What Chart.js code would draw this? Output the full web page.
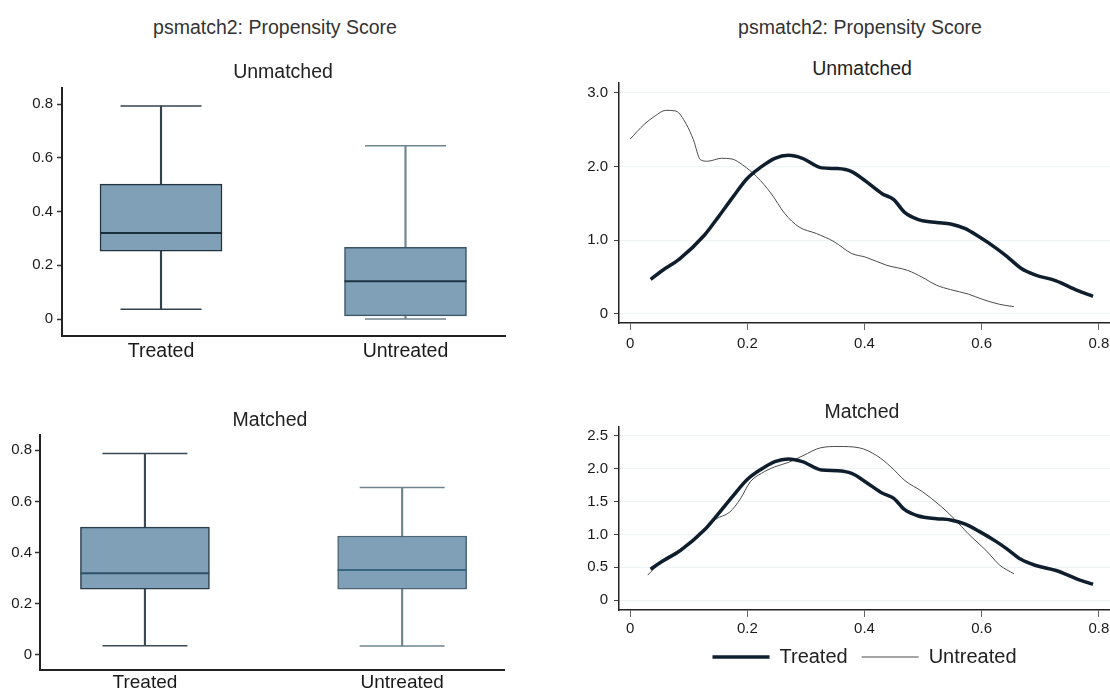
<!DOCTYPE html>
<html>
<head>
<meta charset="utf-8">
<title>psmatch2: Propensity Score</title>
<script src="https://cdn.jsdelivr.net/npm/chart.js@4.4.1/dist/chart.umd.min.js"></script>
<style>
body { margin: 0; width: 1110px; height: 693px; overflow: hidden; background: #fff;
       font-family: "Liberation Sans", Arial, Helvetica, sans-serif; }
canvas { position: absolute; }
.t { position: absolute; transform: translate(-50%, -50%); white-space: nowrap; color: #222; font-size: 19.5px; }
.main { color: #333; }
</style>
</head>
<body>
<canvas id="boxUnmatched" width="520" height="290" style="left:0;top:80px"></canvas>
<canvas id="boxMatched" width="520" height="293" style="left:0;top:400px"></canvas>
<canvas id="densUnmatched" width="550" height="290" style="left:560px;top:80px"></canvas>
<canvas id="densMatched" width="550" height="293" style="left:560px;top:400px"></canvas>

<div class="t main" style="left:275px;top:27px">psmatch2: Propensity Score</div>
<div class="t main" style="left:860px;top:27px">psmatch2: Propensity Score</div>
<div class="t" style="left:283px;top:71px">Unmatched</div>
<div class="t" style="left:862px;top:68px">Unmatched</div>
<div class="t" style="left:270px;top:419px">Matched</div>
<div class="t" style="left:862px;top:411px">Matched</div>

<script>
// groups
const groups = ['Treated', 'Untreated'];

// box stats per group: [lower whisker, q1, median, q3, upper whisker]
const boxUnmatched = [[0.037, 0.253, 0.320, 0.502, 0.793],
                      [0.000, 0.012, 0.141, 0.267, 0.645]];
const boxMatched   = [[0.036, 0.257, 0.319, 0.500, 0.788],
                      [0.035, 0.257, 0.332, 0.465, 0.655]];
const boxTicks = [0, 0.2, 0.4, 0.6, 0.8];
const boxTickLabels = ['0', '0.2', '0.4', '0.6', '0.8'];

// kernel density of the propensity score, treated (same group in both panels)
const treatedX = [0.035, 0.055, 0.085, 0.127, 0.151, 0.175, 0.199, 0.223, 0.247, 0.270,
                  0.294, 0.327, 0.354, 0.378, 0.402, 0.430, 0.450, 0.468, 0.492, 0.523,
                  0.547, 0.571, 0.595, 0.625, 0.643, 0.667, 0.691, 0.727, 0.763, 0.790];
const treatedY = [0.47, 0.59, 0.75, 1.07, 1.32, 1.58, 1.83, 1.99, 2.11, 2.15,
                  2.11, 1.98, 1.97, 1.93, 1.80, 1.63, 1.55, 1.38, 1.28, 1.24,
                  1.22, 1.16, 1.05, 0.89, 0.78, 0.62, 0.53, 0.45, 0.32, 0.24];

// untreated, before matching
const untreatedUX = [0.000, 0.024, 0.042, 0.061, 0.078, 0.096, 0.108, 0.120, 0.132, 0.156,
                     0.174, 0.192, 0.216, 0.240, 0.264, 0.288, 0.318, 0.348, 0.378, 0.402,
                     0.438, 0.474, 0.498, 0.523, 0.547, 0.577, 0.601, 0.631, 0.655];
const untreatedUY = [2.37, 2.57, 2.68, 2.76, 2.75, 2.57, 2.36, 2.09, 2.07, 2.11,
                     2.10, 2.02, 1.86, 1.64, 1.36, 1.18, 1.09, 0.98, 0.82, 0.77,
                     0.66, 0.59, 0.50, 0.39, 0.33, 0.27, 0.20, 0.13, 0.10];

// untreated, after matching
const untreatedMX = [0.030, 0.056, 0.086, 0.128, 0.146, 0.170, 0.188, 0.205, 0.224, 0.247,
                     0.271, 0.295, 0.325, 0.355, 0.391, 0.421, 0.445, 0.469, 0.499, 0.529,
                     0.553, 0.577, 0.607, 0.631, 0.655];
const untreatedMY = [0.38, 0.61, 0.78, 1.06, 1.23, 1.34, 1.54, 1.80, 1.93, 2.03,
                     2.10, 2.20, 2.32, 2.34, 2.32, 2.20, 2.03, 1.82, 1.65, 1.44,
                     1.24, 1.01, 0.76, 0.53, 0.40];

const xTicks = [0, 0.2, 0.4, 0.6, 0.8];
const xTickLabels = ['0', '0.2', '0.4', '0.6', '0.8'];
const yTicksU = [0, 1, 2, 3];
const yTickLabelsU = ['0', '1.0', '2.0', '3.0'];
const yTicksM = [0, 0.5, 1, 1.5, 2, 2.5];
const yTickLabelsM = ['0', '0.5', '1.0', '1.5', '2.0', '2.5'];

Chart.defaults.font.family = '"Liberation Sans", Arial, Helvetica, sans-serif';
Chart.defaults.color = '#1a1a1a';
Chart.defaults.animation = false;
Chart.defaults.plugins.tooltip.enabled = false;
Chart.defaults.plugins.legend.display = false;

function boxChart(id, stats, o) {
  const at = k => stats.map((s, i) => ({x: i, y: s[k]}));
  new Chart(document.getElementById(id), {
    type: 'bar',
    data: {
      datasets: [
        // median
        {type: 'line', data: at(2), showLine: false, pointStyle: 'line',
         pointRadius: o.box / 2, pointHoverRadius: o.box / 2, pointBorderWidth: 2,
         pointBorderColor: o.median, order: 0},
        // whisker caps
        {type: 'line', data: at(0).concat(at(4)), showLine: false, pointStyle: 'line',
         pointRadius: o.cap / 2, pointHoverRadius: o.cap / 2, pointBorderWidth: 1.5,
         pointBorderColor: o.whisker.concat(o.whisker), order: 1},
        // box q1..q3
        {data: stats.map((s, i) => ({x: i, y: [s[1], s[3]]})), backgroundColor: '#7fa0b6',
         borderColor: o.edge, borderWidth: 1.5, borderSkipped: false,
         barThickness: o.box, grouped: false, order: 2},
        // whisker
        {data: stats.map((s, i) => ({x: i, y: [s[0], s[4]]})), backgroundColor: o.whisker,
         barThickness: 1.5, grouped: false, order: 3}
      ]
    },
    options: {
      responsive: false,
      layout: {autoPadding: false, padding: {top: o.top, right: o.right, left: 0, bottom: 0}},
      scales: {
        x: {
          type: 'linear', min: o.xmin, max: o.xmax, offset: false,
          afterBuildTicks: s => { s.ticks = groups.map((g, i) => ({value: i})); },
          afterFit: s => { s.height = o.xh; s.paddingLeft = 0; s.paddingRight = 0; },
          ticks: {callback: v => groups[v], font: {size: o.catSize}, color: '#1a1a1a',
                  padding: o.xpad, maxRotation: 0, autoSkip: false},
          grid: {display: false, drawTicks: false, offset: false},
          border: {color: '#222', width: 2}
        },
        y: {
          min: o.ymin, max: o.ymax,
          afterBuildTicks: s => { s.ticks = boxTicks.map(v => ({value: v})); },
          afterFit: s => { s.width = o.yw; s.paddingTop = 0; s.paddingBottom = 0; },
          ticks: {callback: (v, i) => boxTickLabels[i], font: {size: 15}, padding: o.ypad},
          grid: {drawOnChartArea: false, tickLength: 5, tickColor: '#333', tickWidth: 1.5},
          border: {color: '#222', width: 2}
        }
      }
    }
  });
}

function densityChart(id, ux, uy, yTicks, yLabels, o) {
  const pts = (xs, ys) => xs.map((x, i) => ({x: x, y: ys[i]}));
  new Chart(document.getElementById(id), {
    type: 'line',
    data: {
      datasets: [
        {label: 'Treated', data: pts(treatedX, treatedY), borderColor: '#0f1e2d',
         borderWidth: 3.5, pointRadius: 0, cubicInterpolationMode: 'monotone'},
        {label: 'Untreated', data: pts(ux, uy), borderColor: '#4b4b4b',
         borderWidth: 1, pointRadius: 0, cubicInterpolationMode: 'monotone'}
      ]
    },
    options: {
      responsive: false,
      layout: {autoPadding: false, padding: {top: o.top, right: 0, left: 0, bottom: o.bottom}},
      plugins: {
        legend: {
          display: o.legend, position: 'bottom', fullSize: false,
          labels: {usePointStyle: true, pointStyle: 'line', pointStyleWidth: 57,
                   font: {size: 20}, color: '#222', padding: 14}
        }
      },
      scales: {
        x: {
          type: 'linear', min: -0.019, max: 0.819,
          afterBuildTicks: s => { s.ticks = xTicks.map(v => ({value: v})); },
          afterFit: s => { s.height = o.xh; s.paddingLeft = 0; s.paddingRight = 0; },
          ticks: {callback: (v, i) => xTickLabels[i], font: {size: 15}, padding: o.xpad, maxRotation: 0},
          grid: {drawOnChartArea: false, tickLength: 7, tickColor: '#666', tickWidth: 1},
          border: {color: '#222', width: 1.5}
        },
        y: {
          min: o.ymin, max: o.ymax,
          afterBuildTicks: s => { s.ticks = yTicks.map(v => ({value: v})); },
          afterFit: s => { s.width = 59; s.paddingTop = 0; s.paddingBottom = 0; },
          ticks: {callback: (v, i) => yLabels[i], font: {size: 15}, padding: 6},
          grid: {color: '#eef3f6', tickLength: 5, tickColor: '#444', tickWidth: 1},
          border: {color: '#222', width: 1.5}
        }
      }
    }
  });
}

boxChart('boxUnmatched', boxUnmatched, {
  top: 8, right: 15, xh: 34, yw: 62, xpad: 4, ypad: 4, catSize: 19.5,
  xmin: -0.405, xmax: 1.407, ymin: -0.063, ymax: 0.86, box: 122, cap: 81,
  edge: ['#22323e', '#3b5566'], median: ['#1d2e3b', '#1e3444'], whisker: ['#33434e', '#6f8491']
});
boxChart('boxMatched', boxMatched, {
  top: 35, right: 16, xh: 23, yw: 40, xpad: 1, ypad: 3, catSize: 19,
  xmin: -0.408, xmax: 1.396, ymin: -0.059, ymax: 0.86, box: 129, cap: 85,
  edge: ['#2a3d4a', '#4d6676'], median: ['#2e5168', '#3a6580'], whisker: ['#3a4a55', '#6f8491']
});
densityChart('densUnmatched', untreatedUX, untreatedUY, yTicksU, yTickLabelsU, {
  top: 3, bottom: 0, xh: 47, xpad: 5, ymin: -0.122, ymax: 3.13, legend: false
});
densityChart('densMatched', untreatedMX, untreatedMY, yTicksM, yTickLabelsM, {
  top: 27, bottom: 16, xh: 23, xpad: 3, ymin: -0.152, ymax: 2.637, legend: true
});
</script>
</body>
</html>
